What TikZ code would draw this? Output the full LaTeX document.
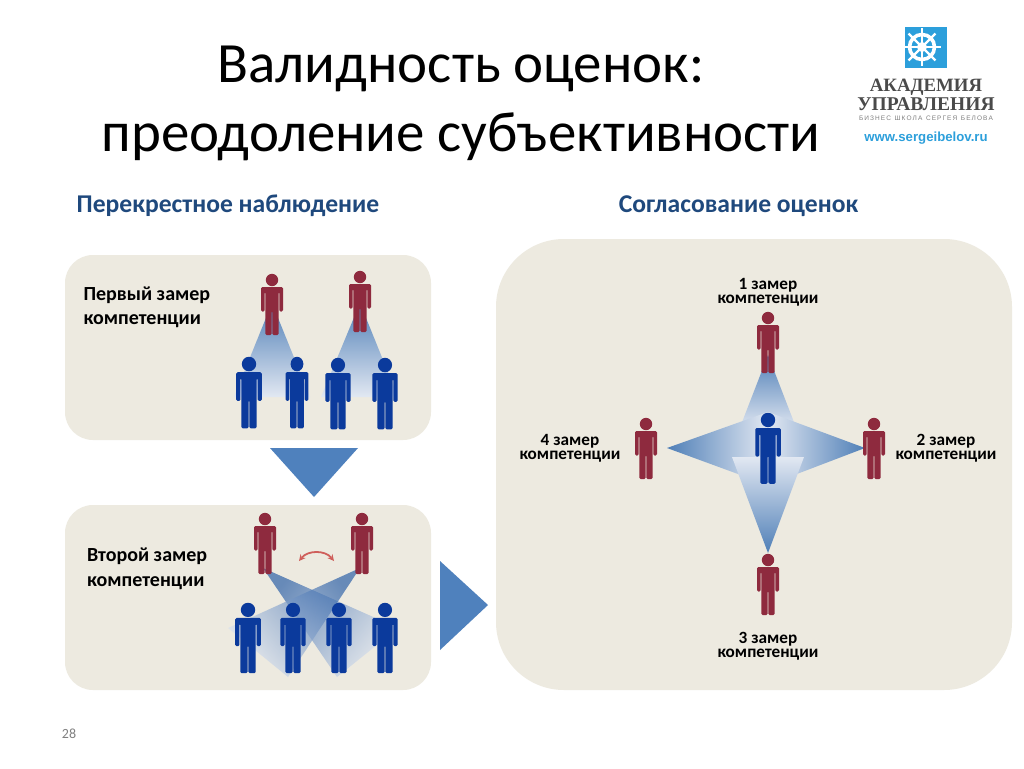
\documentclass[tikz,border=0pt]{standalone}
\usepackage{fontspec}
\usepackage{xcolor}
\setmainfont{Carlito}
\newfontfamily\logoserif{Liberation Serif}
\newfontfamily\logosans{Liberation Sans}
\definecolor{ZPanel}{HTML}{EDEAE0}
\definecolor{ZArrow}{HTML}{4F81BD}
\definecolor{ZHead}{HTML}{1F497D}
\definecolor{ZRed}{HTML}{8E2A3E}
\definecolor{ZBlue}{HTML}{0B3A9C}
\definecolor{ZBeam}{HTML}{4F7FB7}
\definecolor{ZBeamDeep}{HTML}{2F62A8}
\definecolor{ZBeamLight}{HTML}{E2E8F2}
\definecolor{ZSwap}{HTML}{CF5F5B}
\definecolor{ZLogo}{HTML}{2C9FDB}
\definecolor{ZLogoText}{HTML}{4A4A4A}
\tikzset{
  person/.pic={
    \fill[pic actions] (0,6) circle (6.2);
    \fill[pic actions,rounded corners=1.3pt] (-11,13)--(11,13)--(11,37.5)--(7.4,37.5)--(7.4,18)--(6.6,18)--(6.6,61)--(0.4,61)--(0.4,37)--(-0.4,37)--(-0.4,61)--(-6.6,61)--(-6.6,18)--(-7.4,18)--(-7.4,37.5)--(-11,37.5)--cycle;
  },
  panel/.style={fill=ZPanel},
  turnmark/.style={fill=ZArrow},
  heading/.style={anchor=base,text=ZHead,font=\fontsize{25.6}{28}\selectfont\bfseries},
  titleline/.style={anchor=base,font=\fontsize{56.9}{60}\selectfont},
  caption/.style={align=left,anchor=west,font=\fontsize{20}{24.5}\selectfont\bfseries},
  capmini/.style={align=center,anchor=center,font=\fontsize{17.2}{14.4}\selectfont\bfseries}
}
\begin{document}
\begin{tikzpicture}[x=1pt,y=-1pt]
\useasboundingbox (0,0) rectangle (1024,768);
\fill[white] (0,0) rectangle (1024,768);
\node[titleline] (title1) at (461,82) {Валидность оценок:};
\node[titleline] (title2) at (461,151) {преодоление субъективности};
\node[heading] (headL) at (228,212) {Перекрестное наблюдение};
\node[heading] (headR) at (738.5,212) {Согласование оценок};
\fill[panel,rounded corners=28pt] (65,255) rectangle (431,440);
\fill[panel,rounded corners=28pt] (65,505) rectangle (431,690);
\fill[panel,rounded corners=68pt] (496,239) rectangle (1012,690);
\fill[turnmark] (270,448)--(358,448)--(314,497)--cycle;
\fill[turnmark] (440,561)--(440,650)--(488,605)--cycle;
\node[caption] (first) at (80,307.5) {Первый замер\\компетенции};
\node[caption] (second) at (83.5,569) {Второй замер\\компетенции};
\node[capmini] (m1) at (768,292) {1 замер\\компетенции};
\node[capmini] (m2) at (946,448) {2 замер\\компетенции};
\node[capmini] (m3) at (768,646) {3 замер\\компетенции};
\node[capmini] (m4) at (570,448) {4 замер\\компетенции};
\node[anchor=base,text=gray,font=\fontsize{14}{16}\selectfont] (page) at (69,738) {28};
\foreach \a/\b/\c in {272/234/310,360/321/398} {
  \shade[top color=ZBeam,bottom color=ZBeamLight] (\a,303)--(\b,397)--(\c,397)--cycle;
}
\shade[top color=ZBeamDeep,bottom color=ZBeamLight,shading angle=51,fill opacity=.7] (263,568)--(398,628)--(337,677)--cycle;
\shade[top color=ZBeamDeep,bottom color=ZBeamLight,shading angle=-51,fill opacity=.7] (360,568)--(228,628)--(288,677)--cycle;
\shade[top color=ZBeam,bottom color=ZBeamLight] (768,355)--(739,430)--(797,430)--cycle;
\shade[left color=ZBeam,right color=ZBeamLight] (667,448)--(768,412)--(768,485)--cycle;
\shade[right color=ZBeam,left color=ZBeamLight] (865,448)--(768,412)--(768,485)--cycle;
\shade[bottom color=ZBeam,top color=ZBeamLight] (768,553)--(732,457)--(804,457)--cycle;
\foreach \x/\y in {272/274,360/271,265/513,362/513,768/312,646/418,874/418,768/554} {
  \pic[fill=ZRed] at (\x,\y) {person};
}
\foreach \x/\y/\sx/\sy in {249/357/1.16/1.17,297/357/1.03/1.17,338/358/1.14/1.17,385/358/1.14/1.17,248/603/1.16/1.15,293/603/1.14/1.15,339/603/1.14/1.15,385/603/1.14/1.15,768/413/1.16/1.16} {
  \pic[fill=ZBlue,xscale=\sx,yscale=\sy] at (\x,\y) {person};
}
\coordinate (swapA) at (299,561);
\coordinate (swapB) at (334,561);
\draw[ZSwap,line width=1.8pt,<->,>=stealth] (swapA) .. controls (308,550) and (325,550) .. (swapB);
\fill[ZLogo] (905,27) rectangle (947,68);
\begin{scope}
\clip (905,27) rectangle (947,68);
\draw[white,line width=3.6pt] (922,47) circle (12.5);
\foreach \a in {0,45,...,315} {
  \draw[white,line width=2.4pt] (922,47)--++(\a:19);
}
\fill[white] (922,47) circle (5);
\end{scope}
\node[anchor=base,text=ZLogoText,font=\logoserif\fontsize{18.8}{22}\selectfont\bfseries] (logo1) at (926,91) {АКАДЕМИЯ};
\node[anchor=base,text=ZLogoText,font=\logoserif\fontsize{19.5}{22}\selectfont\bfseries] (logo2) at (926,110) {УПРАВЛЕНИЯ};
\node[anchor=base,text=gray,font=\logosans\fontsize{6.5}{7}\selectfont] (logo3) at (926,120) {Б\,И\,З\,Н\,Е\,С\ \ Ш\,К\,О\,Л\,А\ \ С\,Е\,Р\,Г\,Е\,Я\ \ Б\,Е\,Л\,О\,В\,А};
\node[anchor=base,text=ZLogo,font=\logosans\fontsize{13.2}{14}\selectfont\bfseries] (logo4) at (926,141) {www.sergeibelov.ru};
\end{tikzpicture}
\end{document}
